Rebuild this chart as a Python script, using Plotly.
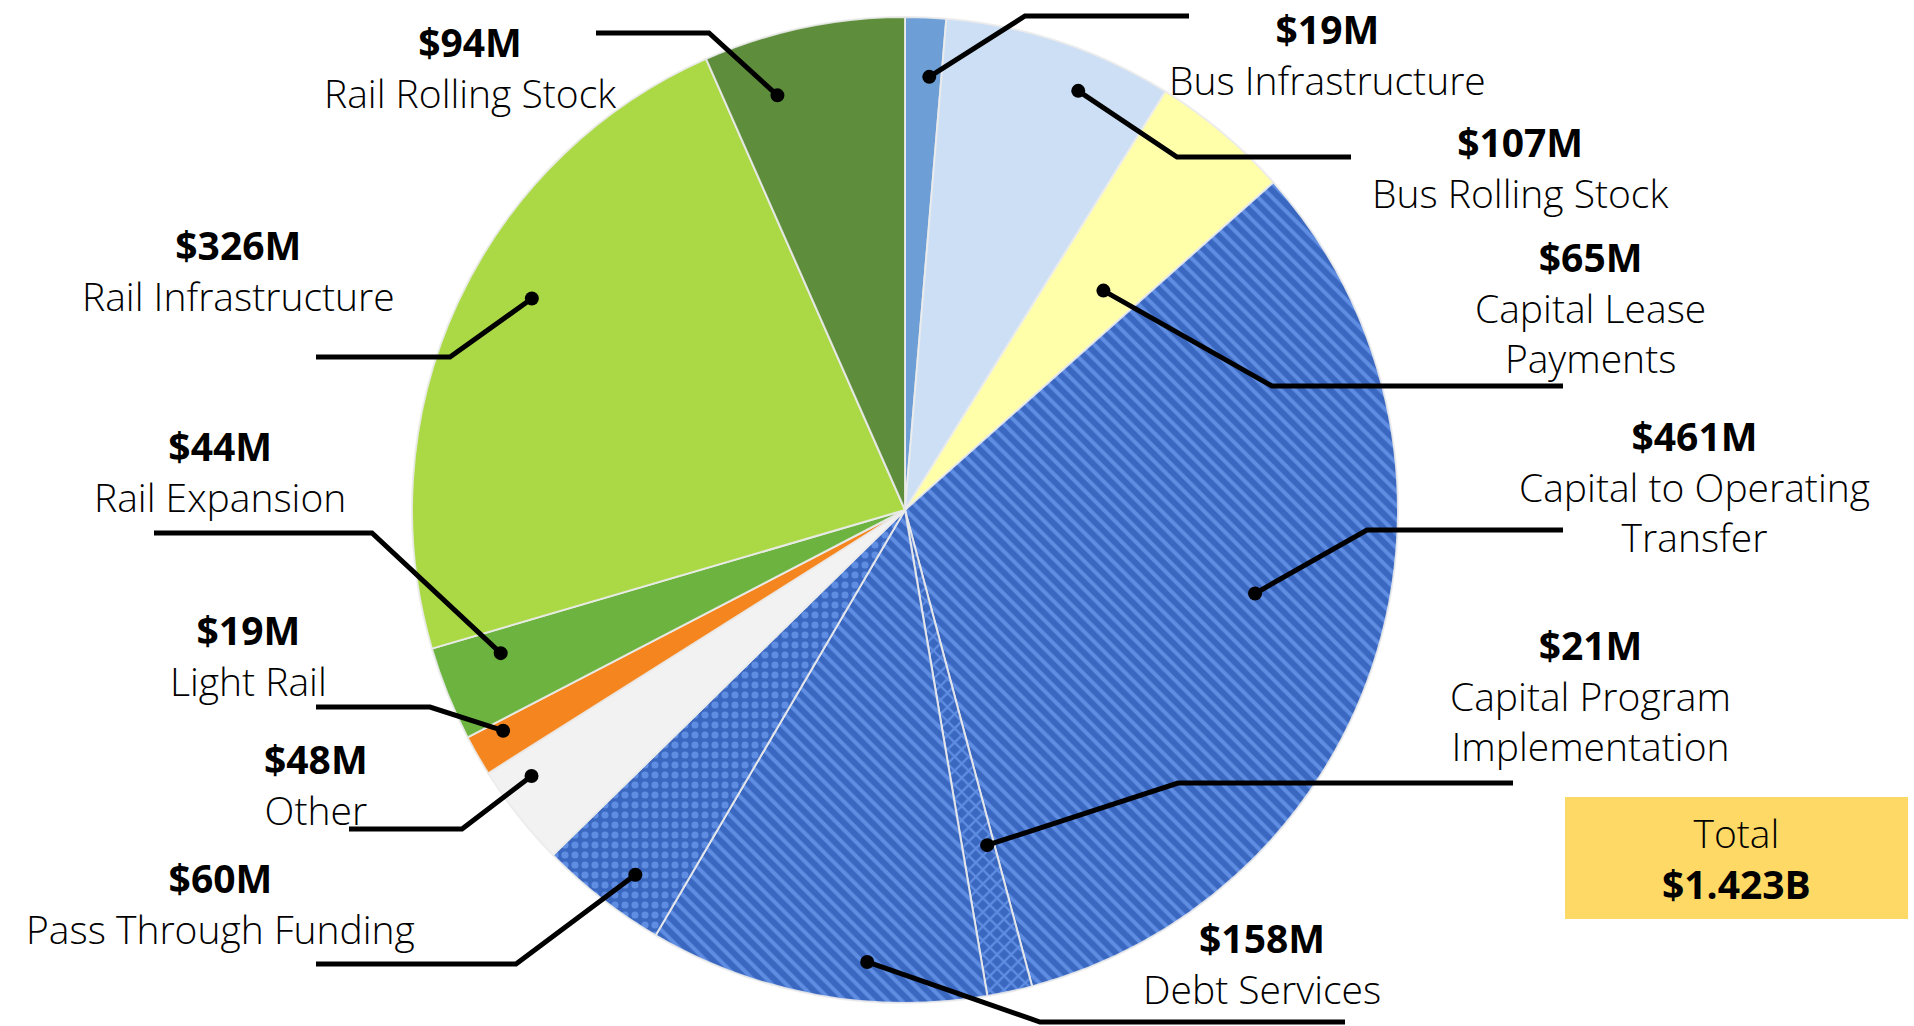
import math
import plotly.graph_objects as go

# ---- data ----
categories = ["Bus Infrastructure", "Bus Rolling Stock", "Capital Lease<br>Payments",
              "Capital to Operating<br>Transfer", "Capital Program<br>Implementation",
              "Debt Services", "Pass Through Funding", "Other", "Light Rail",
              "Rail Expansion", "Rail Infrastructure", "Rail Rolling Stock"]
values = [19, 107, 65, 461, 21, 158, 60, 48, 19, 44, 326, 94]
value_labels = ["$19M", "$107M", "$65M", "$461M", "$21M", "$158M", "$60M", "$48M",
                "$19M", "$44M", "$326M", "$94M"]
total_title = "Total"
total_label = "$1.423B"

# ---- styles ----
colors = ["#6E9ED6", "#CCDFF5", "#FFFFAA", "#3A67C0", "#3A67C0", "#3A67C0",
          "#3A67C0", "#F2F2F2", "#F5861F", "#6CB33F", "#ABD946", "#5E8E3C"]
pattern_shapes = ["", "", "", "\\", "x", "\\", ".", "", "", "", "", ""]

W, H = 1914, 1026
CX, CY, R = 905, 510, 493

# dot radial fractions / angle tweaks, label elbow/end points (pixel), label centers (pixel)
dot_frac = [0.88, 0.92, 0.6, 0.73, 0.7, 0.92, 0.92, 0.93, 0.93, 0.87, 0.87, 0.88]
dot_adj = [0.8, 4.1, 2.0, -3.3, -1.5, -5.6, -1.5, 2.9, 1.1, 2.4, 4.6, -5.2]
elbows = [(1025, 16), (1177, 157), (1272, 386), (1367, 530), (1178, 783), (1040, 1022),
          (516, 964), (462, 829), (430, 707), (372, 533), (450, 357), (709, 33)]
ends = [(1189, 16), (1351, 157), (1563, 386), (1563, 530), (1513, 783), (1345, 1022),
        (316, 964), (349, 829), (316, 707), (154, 533), (316, 357), (596, 33)]
label_pos = [(1327, 54), (1520, 167), (1590, 307), (1694, 486), (1590, 695), (1262, 963),
             (220, 903), (316, 784), (248, 655), (220, 471), (238, 270), (470, 67)]
FONT = "Open Sans"
FSIZE = 39


def px(x):
    return x / W


def py(y):
    return 1 - y / H


fig = go.Figure()
fig.add_trace(go.Pie(
    labels=categories, values=values, sort=False, direction="clockwise", rotation=0,
    textinfo="none", hoverinfo="label+value", showlegend=False,
    marker=dict(colors=colors,
                line=dict(color="rgba(235,235,235,0.9)", width=2),
                pattern=dict(shape=pattern_shapes, fgcolor="#5E8DE2", bgcolor=colors,
                             size=10, solidity=0.4, fillmode="replace")),
    domain=dict(x=[(CX - R) / W, (CX + R) / W], y=[(H - CY - R) / H, (H - CY + R) / H]),
))

shapes = []
annotations = []
total = sum(values)
cum = 0
for i, v in enumerate(values):
    mid = ((cum + v / 2) / total * 360 + dot_adj[i]) * math.pi / 180
    cum += v
    dx = CX + math.sin(mid) * R * dot_frac[i]
    dy = CY - math.cos(mid) * R * dot_frac[i]
    ex, ey = elbows[i]
    fx, fy = ends[i]
    shapes.append(dict(type="path", xref="paper", yref="paper", layer="above",
                       path=f"M {px(dx)} {py(dy)} L {px(ex)} {py(ey)} L {px(fx)} {py(fy)}",
                       line=dict(color="black", width=5)))
    r = 7
    shapes.append(dict(type="circle", xref="paper", yref="paper", layer="above",
                       x0=px(dx - r), x1=px(dx + r), y0=py(dy + r), y1=py(dy - r),
                       fillcolor="black", line=dict(width=0)))
    lx, ly = label_pos[i]
    annotations.append(dict(
        x=px(lx), y=py(ly), xref="paper", yref="paper", showarrow=False,
        xanchor="center", yanchor="middle", align="center", borderpad=0,
        text=f"<b>{value_labels[i]}</b><br>{categories[i]}",
        font=dict(family=FONT, size=FSIZE, color="black", weight=300)))

# total box
shapes.append(dict(type="rect", xref="paper", yref="paper", layer="above",
                   x0=px(1565), x1=px(1908), y0=py(919), y1=py(797),
                   fillcolor="#FFD966", line=dict(width=0)))
annotations.append(dict(
    x=px(1736), y=py(858), xref="paper", yref="paper", showarrow=False,
    xanchor="center", yanchor="middle", align="center", borderpad=0,
    text=f"{total_title}<br><b>{total_label}</b>",
    font=dict(family=FONT, size=39, color="black", weight=300)))

fig.update_layout(
    width=W, height=H, margin=dict(l=0, r=0, t=0, b=0),
    paper_bgcolor="white", plot_bgcolor="white",
    shapes=shapes, annotations=annotations,
)
fig.write_html("out.html", config={"displayModeBar": False},
               post_script="document.body.style.margin='0px';")
